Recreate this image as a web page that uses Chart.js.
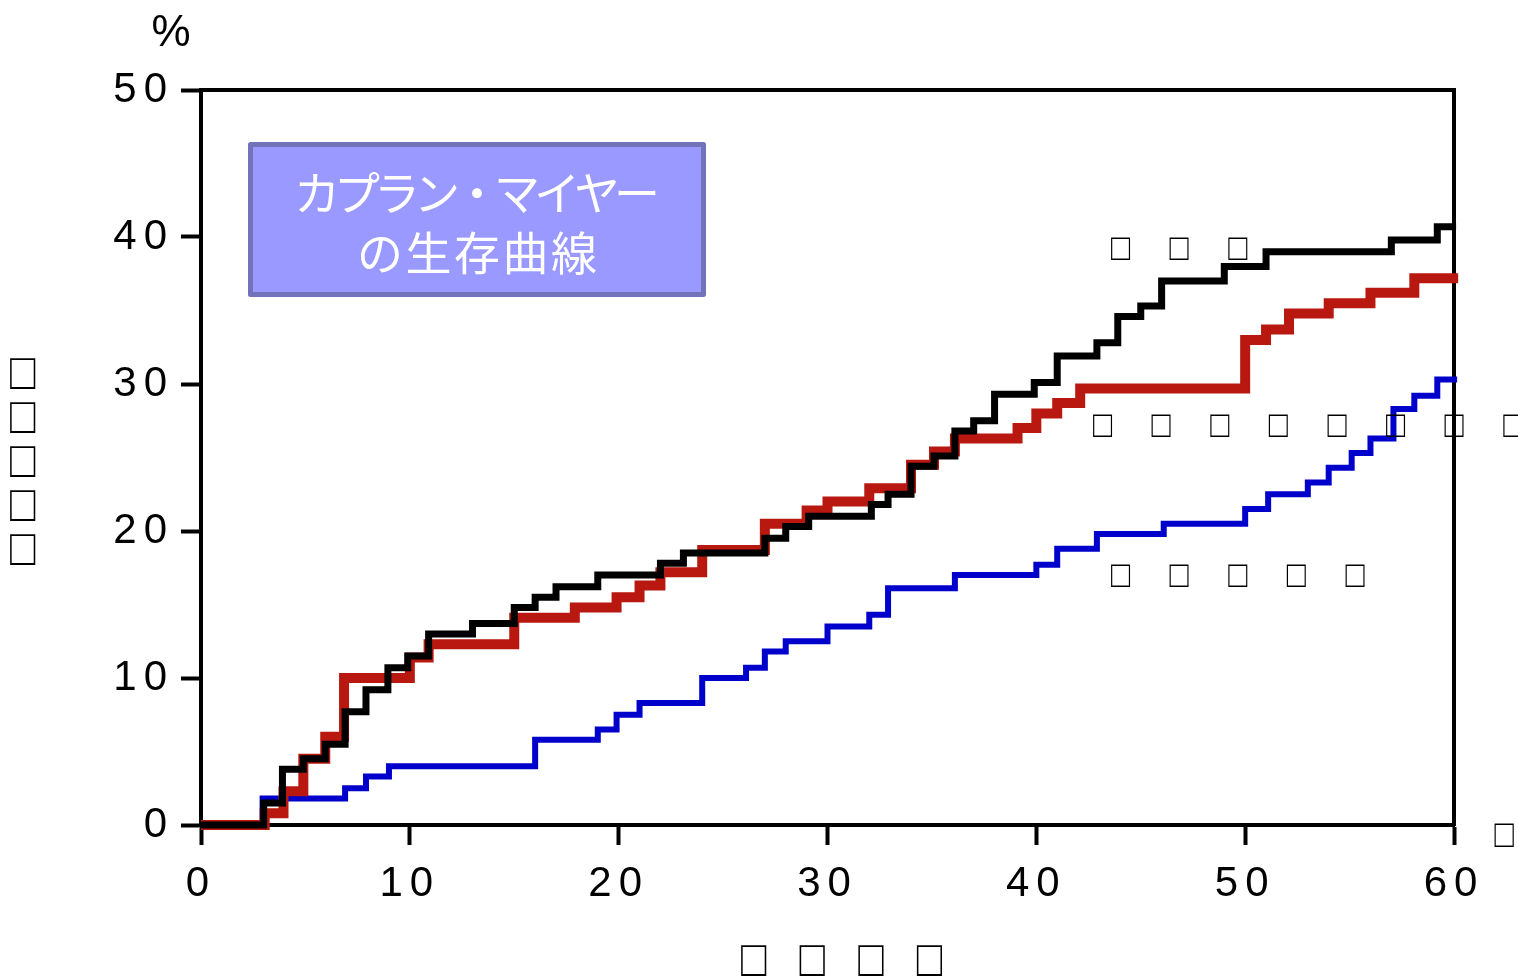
<!DOCTYPE html>
<html>
<head>
<meta charset="utf-8">
<script src="https://cdn.jsdelivr.net/npm/chart.js@4/dist/chart.umd.min.js"></script>
<style>
  html, body { margin: 0; padding: 0; background: #ffffff; }
  #wrap { width: 1518px; height: 976px; position: relative; }
</style>
</head>
<body>
<div id="wrap"><canvas id="c" width="1518" height="976"></canvas></div>
<script>
// ---------- data ----------
const xTickValues = [0, 10, 20, 30, 40, 50, 60];
const yTickValues = [0, 10, 20, 30, 40, 50];

const blackTimes  = [0, 3.0, 3.9, 4.9, 5.95, 6.9, 7.9, 8.95, 9.9, 10.9, 13.0, 15.0, 16.0, 17.0, 19.0, 22.0, 23.1, 27.0, 28.0, 29.1, 32.1, 32.9, 34.0, 35.1, 36.1, 37.0, 38.0, 39.9, 41.0, 42.9, 43.9, 45.0, 46.0, 49.0, 51.0, 57.0, 59.2, 60.1];
const blackValues = [0, 1.5, 3.8, 4.5, 5.5, 7.7, 9.2, 10.7, 11.5, 13.0, 13.7, 14.8, 15.5, 16.2, 17.0, 17.8, 18.5, 19.5, 20.3, 21.0, 21.8, 22.5, 24.4, 25.1, 26.8, 27.5, 29.3, 30.1, 31.9, 32.8, 34.6, 35.3, 37.0, 38.0, 39.0, 39.8, 40.7, 40.7];

const redTimes  = [0, 3.05, 3.95, 4.9, 5.95, 6.85, 10.0, 10.9, 15.0, 17.9, 19.9, 21.0, 22.0, 24.0, 27.0, 29.0, 30.0, 32.0, 34.0, 35.1, 36.1, 39.1, 40.0, 41.0, 42.1, 50.0, 51.0, 52.1, 54.0, 56.0, 58.1, 60.2];
const redValues = [0, 0.8, 2.3, 4.5, 6.0, 10.0, 11.4, 12.3, 14.1, 14.8, 15.5, 16.3, 17.2, 18.7, 20.5, 21.4, 22.0, 22.9, 24.5, 25.4, 26.3, 27.0, 28.0, 28.7, 29.7, 33.0, 33.7, 34.8, 35.5, 36.2, 37.2, 37.2];

const blueTimes  = [0, 2.95, 6.9, 7.9, 9.0, 16.0, 19.0, 19.9, 21.0, 24.0, 26.1, 27.0, 28.0, 30.0, 32.0, 32.9, 36.1, 40.0, 41.0, 42.9, 46.1, 50.0, 51.1, 53.0, 54.0, 55.1, 56.0, 57.1, 58.1, 59.2, 60.15];
const blueValues = [0, 1.8, 2.5, 3.3, 4.0, 5.8, 6.5, 7.5, 8.3, 10.0, 10.7, 11.8, 12.5, 13.5, 14.3, 16.1, 17.0, 17.7, 18.8, 19.8, 20.5, 21.5, 22.5, 23.3, 24.3, 25.3, 26.3, 28.3, 29.2, 30.3, 30.3];

// ---------- texts ----------
const titleLines   = ['カプラン・マイヤー', 'の生存曲線'];
const unitText     = '%';
const yTitleText   = '□□□□□';
const xTitleText   = '□□□□';
const xUnitText    = '□';
const blackLabel   = '□□□';
const redLabel     = '□□□□□□□□';
const blueLabel    = '□□□□□';

// ---------- helpers ----------
function toPoints(ts, vs) { return ts.map((t, i) => ({ x: t, y: vs[i] })); }

const TICK_FONT = '"Liberation Sans", Arial, sans-serif';
const BOX_FONT  = '"Liberation Sans", "DejaVu Sans", sans-serif';

// draws one character centred on (cx, cy), stretched vertically by sy
function drawChar(ctx, ch, cx, cy, sy) {
  ctx.save();
  ctx.textAlign = 'left';
  ctx.textBaseline = 'alphabetic';
  const m = ctx.measureText(ch);
  const w = m.actualBoundingBoxRight - m.actualBoundingBoxLeft;
  const yc = (m.actualBoundingBoxAscent - m.actualBoundingBoxDescent) / 2;
  ctx.translate(cx, cy);
  ctx.scale(1, sy);
  ctx.fillText(ch, -m.actualBoundingBoxLeft - w / 2 + m.actualBoundingBoxLeft * 0, yc);
  ctx.restore();
}
function drawRow(ctx, text, x0, y, step, sy) {
  Array.from(text).forEach((ch, i) => drawChar(ctx, ch, x0 + i * step, y, sy));
}

const spacingPlugin = {
  id: 'spacing',
  beforeDraw(chart) { chart.ctx.letterSpacing = '7px'; }
};

const textPlugin = {
  id: 'texts',
  afterDraw(chart) {
    const ctx = chart.ctx;
    const xs = chart.scales.x, ys = chart.scales.y;
    ctx.save();
    ctx.letterSpacing = '0px';
    ctx.fillStyle = '#000';

    // unit "%"
    ctx.font = '44px ' + TICK_FONT;
    drawChar(ctx, unitText, 170, 30, 1);

    // axis titles (tofu-like boxes)
    ctx.font = '42px ' + BOX_FONT;
    Array.from(yTitleText).forEach((ch, i) => drawChar(ctx, ch, 23, 373.5 + i * 44, 1.22));
    drawRow(ctx, xTitleText, 754, 960.5, 58.6, 1.22);

    // small labels
    ctx.font = '32px ' + BOX_FONT;
    drawChar(ctx, xUnitText, 1504.5, 835, 1.24);
    drawRow(ctx, blackLabel, 1121, ys.getPixelForValue(39.25), 58.6, 1.18);
    drawRow(ctx, redLabel,   1103, ys.getPixelForValue(27.2), 58.6, 1.18);
    drawRow(ctx, blueLabel,  1121, ys.getPixelForValue(17.0), 58.6, 1.18);

    // title box
    const bx = 250.5, by = 144.5, bw = 453, bh = 150;
    ctx.fillStyle = '#9999FF';
    ctx.fillRect(bx, by, bw, bh);
    ctx.lineWidth = 5;
    ctx.strokeStyle = '#7373B9';
    ctx.lineJoin = 'round';
    ctx.strokeRect(bx, by, bw, bh);

    ctx.fillStyle = '#FFFFFF';
    ctx.textAlign = 'left';
    ctx.textBaseline = 'middle';
    ctx.font = '46px "Noto Sans CJK JP", sans-serif';
    const fitLine = (txt, targetW, cx, cy) => {
      ctx.letterSpacing = '0px';
      const n = Array.from(txt).length;
      const w0 = ctx.measureText(txt).width;
      const sp = (targetW - w0) / (n - 1);
      ctx.letterSpacing = sp + 'px';
      ctx.fillText(txt, cx - targetW / 2, cy);
      ctx.letterSpacing = '0px';
    };
    fitLine(titleLines[0], 366, 477, 193);
    fitLine(titleLines[1], 240, 477, 253);
    ctx.restore();
  }
};

const tickFont = { family: TICK_FONT, size: 42 };

new Chart(document.getElementById('c'), {
  type: 'line',
  data: {
    datasets: [
      { label: 'black', data: toPoints(blackTimes, blackValues), borderColor: '#000000', borderWidth: 7 },
      { label: 'red',   data: toPoints(redTimes, redValues),     borderColor: '#B8180F', borderWidth: 10 },
      { label: 'blue',  data: toPoints(blueTimes, blueValues),   borderColor: '#0000CC', borderWidth: 6 }
    ].map(d => Object.assign(d, {
      stepped: 'before', pointRadius: 0, pointHoverRadius: 0, fill: false, tension: 0,
      borderJoinStyle: 'miter', borderCapStyle: 'butt', clip: false
    }))
  },
  options: {
    responsive: false,
    animation: false,
    devicePixelRatio: 1,
    events: [],
    layout: { padding: { left: 0, top: 90, right: 64, bottom: 0 } },
    plugins: { legend: { display: false }, tooltip: { enabled: false }, title: { display: false } },
    scales: {
      x: {
        type: 'linear', position: 'bottom', min: 0, max: 60,
        afterBuildTicks: s => { s.ticks = xTickValues.map(v => ({ value: v })); },
        afterFit: s => { s.height = 151; },
        ticks: { font: tickFont, color: '#000', padding: 14, maxRotation: 0, autoSkip: false },
        grid: { display: true, drawOnChartArea: false, drawTicks: true, tickLength: 20, tickWidth: 4, tickColor: '#000' },
        border: { display: true, color: '#000', width: 4 }
      },
      y: {
        type: 'linear', position: 'left', min: 0, max: 50,
        afterBuildTicks: s => { s.ticks = yTickValues.map(v => ({ value: v })); },
        afterFit: s => { s.width = 201; },
        ticks: { font: tickFont, color: '#000', padding: 7 },
        grid: { display: true, drawOnChartArea: false, drawTicks: true, tickLength: 20, tickWidth: 4, tickColor: '#000' },
        border: { display: true, color: '#000', width: 4 }
      },
      x2: {
        type: 'linear', position: 'top', min: 0, max: 60,
        afterFit: s => { s.height = 0; },
        ticks: { display: false },
        grid: { display: false },
        border: { display: true, color: '#000', width: 4 }
      },
      y2: {
        type: 'linear', position: 'right', min: 0, max: 50,
        afterFit: s => { s.width = 0; },
        ticks: { display: false },
        grid: { display: false },
        border: { display: true, color: '#000', width: 4 }
      }
    }
  },
  plugins: [spacingPlugin, textPlugin]
});
</script>
</body>
</html>
